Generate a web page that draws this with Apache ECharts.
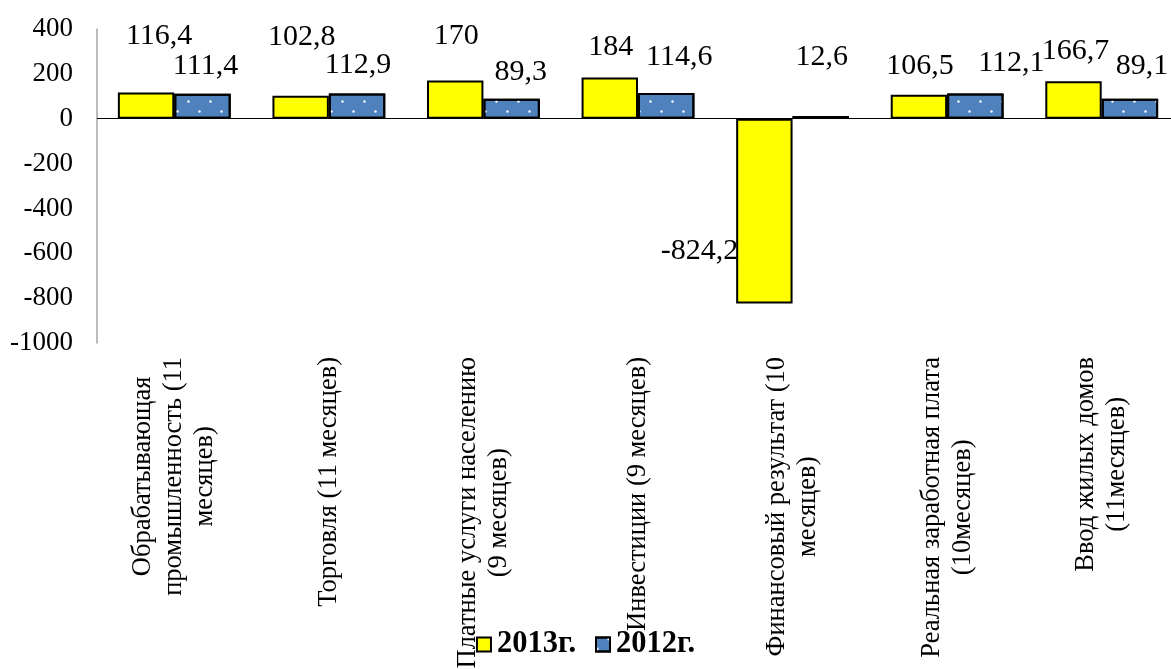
<!DOCTYPE html>
<html>
<head>
<meta charset="utf-8">
<script src="https://cdn.jsdelivr.net/npm/echarts@6/dist/echarts.min.js"></script>
<style>html,body{margin:0;padding:0;background:#fff;overflow:hidden}#c{width:1171px;height:669px}</style>
</head>
<body>
<div id="c"></div>
<script>
const categories = [
  "Обрабатывающая\nпромышленность (11\nмесяцев)",
  "Торговля (11 месяцев)",
  "Платные услуги населению\n(9 месяцев)",
  "Инвестиции (9 месяцев)",
  "Финансовый результат (10\nмесяцев)",
  "Реальная заработная плата\n(10месяцев)",
  "Ввод жилых домов\n(11месяцев)"
];
const seriesNames = ["2013г.", "2012г."];
const values2013 = [116.4, 102.8, 170, 184, -824.2, 106.5, 166.7];
const values2012 = [111.4, 112.9, 89.3, 114.6, 12.6, 112.1, 89.1];
const yTicks = { min: -1000, max: 400, interval: 200 };

// label layout nudges (pixels), kept apart from the data
const nudge2013 = [[13,-36],[1,-39],[1,-24],[1,-10],[7,40],[1,-9],[2,-10]];
const nudge2012 = [[3,-8],[1,-8],[9,-7],[13,-16],[1,-39],[36,-10],[12,-13]];

const FONT = "'Liberation Serif','Times New Roman',serif";
const fmt = p => String(p.value).replace('.', ',');

function buildData(vals, nudges) {
  return vals.map((v, i) => {
    const item = { value: v, label: { offset: nudges[i] } };
    if (v < 0) { item.label.position = 'left'; }
    return item;
  });
}

const chart = echarts.init(document.getElementById('c'), null, { renderer: 'canvas' });
chart.setOption({
  animation: false,
  backgroundColor: '#fff',
  textStyle: { fontFamily: FONT },
  grid: { left: 97, width: 1082, top: 29, height: 314, containLabel: false, outerBoundsMode: 'none' },
  legend: {
    data: seriesNames,
    top: 624,
    left: 'center',
    icon: 'rect',
    itemWidth: 14,
    itemHeight: 14,
    itemGap: 19,
    textStyle: { fontFamily: FONT, fontSize: 30.5, fontWeight: 'bold', color: '#000', padding: [0, 0, 0, 1] }
  },
  xAxis: {
    type: 'category',
    data: categories,
    axisLine: { show: false, onZero: false },
    axisTick: { show: false },
    axisLabel: {
      interval: 0,
      rotate: 90,
      margin: 14,
      fontFamily: FONT,
      fontSize: 26.5,
      lineHeight: 31,
      color: '#000',
      formatter: v => v.split('\n').map(l => '{c|' + l + '}').join('\n'),
      rich: { c: { align: 'center', fontFamily: FONT, fontSize: 26.5, lineHeight: 31, color: '#000' } }
    }
  },
  yAxis: {
    type: 'value',
    min: yTicks.min,
    max: yTicks.max,
    interval: yTicks.interval,
    splitLine: { show: false },
    axisTick: { show: false },
    axisLine: { show: true, lineStyle: { color: '#a6a6a6', width: 1.5 } },
    axisLabel: { fontFamily: FONT, fontSize: 27, color: '#000', margin: 24, formatter: v => String(v) }
  },
  series: [
    {
      name: seriesNames[0],
      type: 'bar',
      data: buildData(values2013, nudge2013),
      barGap: '0%',
      barCategoryGap: '27%',
      itemStyle: { color: '#FFFF00', borderColor: '#000', borderWidth: 2 },
      label: { show: true, position: 'top', distance: 5, formatter: fmt, fontFamily: FONT, fontSize: 30, color: '#000' },
      markLine: {
        silent: true, symbol: 'none', label: { show: false },
        lineStyle: { color: '#000', width: 1, type: 'solid' },
        data: [{ yAxis: 0 }]
      }
    },
    {
      name: seriesNames[1],
      type: 'bar',
      data: buildData(values2012, nudge2012),
      barGap: '0%',
      barCategoryGap: '27%',
      itemStyle: {
        color: '#4F81BD', borderColor: '#000', borderWidth: 2,
        decal: {
          symbol: 'circle', symbolSize: 0.8, color: '#ffffff',
          dashArrayX: [[3, 19], [0, 11, 3, 8]],
          dashArrayY: [3, 7]
        }
      },
      label: { show: true, position: 'top', distance: 5, formatter: fmt, fontFamily: FONT, fontSize: 30, color: '#000' }
    }
  ]
});
</script>
</body>
</html>
